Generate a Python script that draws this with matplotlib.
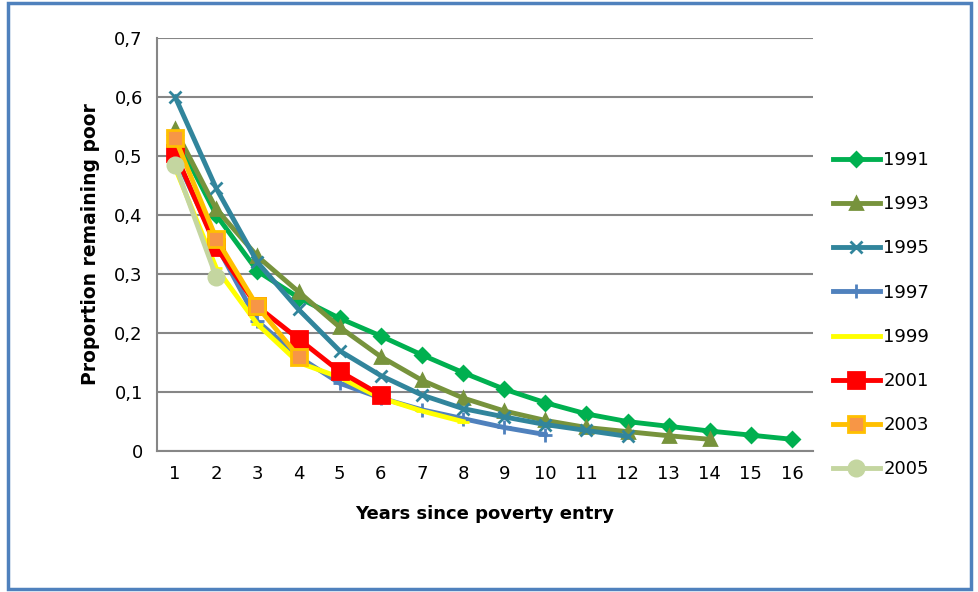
import matplotlib.pyplot as plt
from matplotlib.patches import Rectangle

y1991 = [0.535, 0.40, 0.305, 0.26, 0.225, 0.195, 0.163, 0.133, 0.105, 0.082, 0.063, 0.05, 0.042, 0.034, 0.027, 0.02]
y1993 = [0.545, 0.41, 0.33, 0.27, 0.21, 0.16, 0.12, 0.09, 0.068, 0.052, 0.04, 0.033, 0.026, 0.02]
y1995 = [0.60, 0.445, 0.32, 0.24, 0.17, 0.128, 0.095, 0.072, 0.058, 0.045, 0.035, 0.025]
y1997 = [0.50, 0.35, 0.22, 0.16, 0.115, 0.09, 0.07, 0.055, 0.04, 0.028]
y1999 = [0.48, 0.31, 0.215, 0.15, 0.125, 0.09, 0.068, 0.05]
y2001 = [0.505, 0.345, 0.245, 0.19, 0.135, 0.095]
y2003 = [0.53, 0.36, 0.245, 0.16]
y2005 = [0.485, 0.295]

series = [
    ('1991', y1991, '#00B050', 'D', 7, None),
    ('1993', y1993, '#77933C', '^', 9, None),
    ('1995', y1995, '#31859C', 'x', 9, None),
    ('1997', y1997, '#4F81BD', '+', 10, None),
    ('1999', y1999, '#FFFF00', '_', 8, '#9BBB59'),
    ('2001', y2001, '#FF0000', 's', 11, None),
    ('2003', y2003, '#FFC000', 's', 11, '#F79646'),
    ('2005', y2005, '#C4D6A0', 'o', 11, None),
]

fig = plt.figure(figsize=(9.79, 5.92), dpi=100)
ax = fig.add_axes([0.16, 0.238, 0.67, 0.698])
for name, ys, c, m, ms, face in series:
    xs = list(range(1, len(ys) + 1))
    kw = dict(markerfacecolor=face or c, markeredgecolor=c)
    ax.plot(xs, ys, color=c, lw=3.5, marker=m, ms=ms, mew=2, label=name, **kw)

ax.set_xlim(0.55, 16.5)
ax.set_ylim(0, 0.7)
ax.set_xticks(range(1, 17))
ax.set_yticks([i / 10 for i in range(8)])
ax.set_yticklabels(['0'] + [f'0,{i}' for i in range(1, 8)])
ax.tick_params(length=0, labelsize=13, pad=10)
ax.grid(axis='y', color='#868686', lw=1.5)
ax.set_axisbelow(True)
for s in ['top', 'right']:
    ax.spines[s].set_visible(False)
for s in ['left', 'bottom']:
    ax.spines[s].set_color('#868686')
    ax.spines[s].set_linewidth(1.5)
ax.set_xlabel('Years since poverty entry', fontsize=13, fontweight='bold', labelpad=16)
ax.set_ylabel('Proportion remaining poor', fontsize=13.5, fontweight='bold', labelpad=10)
ax.legend(loc='center left', bbox_to_anchor=(1.02, 0.33), frameon=False, fontsize=13,
          handlelength=2.6, labelspacing=1.45, borderaxespad=0, handletextpad=0.2)
fig.patches.append(Rectangle((0.008, 0.005), 0.984, 0.99, transform=fig.transFigure,
                             fill=False, edgecolor='#4F81BD', lw=2.5))
fig.savefig('out.png')
